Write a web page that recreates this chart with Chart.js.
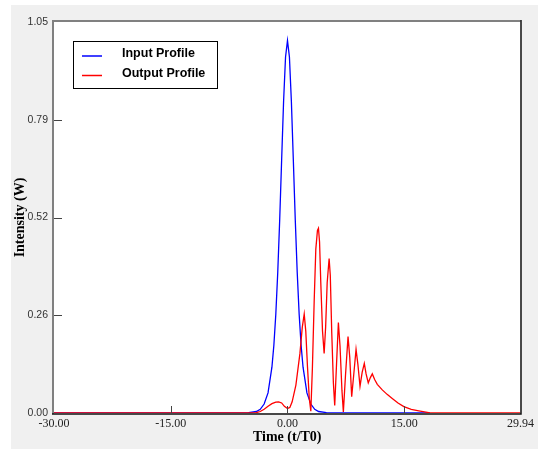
<!DOCTYPE html>
<html>
<head>
<meta charset="utf-8">
<script src="https://cdn.jsdelivr.net/npm/chart.js@4.4.1/dist/chart.umd.min.js"></script>
<style>
html, body { margin: 0; padding: 0; background: #fff; }
</style>
</head>
<body>
<canvas id="pulseChart" width="538" height="449"></canvas>
<script>
// axis ticks
const xTicks = [-30, -15, 0, 15, 29.94];
const xTickLabels = ['-30.00', '-15.00', '0.00', '15.00', '29.94'];
const yTicks = [0, 0.2625, 0.525, 0.7875, 1.05];
const yTickLabels = ['0.00', '0.26', '0.52', '0.79', '1.05'];

// input pulse
const inputTime = [-30, -6, -5, -4, -3.5, -3, -2.5, -2, -1.75, -1.5, -1.25, -1, -0.75, -0.5, -0.25, 0,
    0.25, 0.5, 0.75, 1, 1.25, 1.5, 1.75, 2, 2.5, 3, 3.5, 4, 5, 6, 18.3];
const inputPower = [0, 0, 0.001, 0.004, 0.010, 0.024, 0.054, 0.123, 0.182, 0.265, 0.378, 0.519, 0.680, 0.837, 0.956, 1.0,
    0.956, 0.837, 0.680, 0.519, 0.378, 0.265, 0.182, 0.123, 0.054, 0.024, 0.010, 0.004, 0.001, 0, 0];

// output pulse
const outputTime = [-30, -5, -4, -3.5, -3, -2.5, -2, -1.5, -1.14, -0.75, -0.4, 0, 0.3, 0.6, 1.08, 1.6, 1.9, 2.15,
    2.35, 2.57, 2.8, 3.0, 3.2, 3.43, 3.64, 3.85, 3.98, 4.12, 4.28, 4.5, 4.71, 4.9, 5.1, 5.35, 5.5, 5.69,
    5.9, 6.07, 6.3, 6.54, 6.75, 7.0, 7.18, 7.45, 7.78, 8.0, 8.25, 8.5, 8.81, 9.05, 9.32, 9.6, 9.87, 10.1,
    10.38, 10.65, 10.9, 11.2, 11.54, 12.18, 12.8, 13.46, 14.2, 14.95, 15.9, 16.87, 18.15, 18.3, 29.94];
const outputPower = [0, 0, 0.001, 0.004, 0.010, 0.018, 0.025, 0.029, 0.030, 0.027, 0.018, 0.012, 0.015, 0.030, 0.075, 0.160, 0.230, 0.266,
    0.220, 0.124, 0.040, 0.005, 0.120, 0.300, 0.440, 0.490, 0.496, 0.460, 0.350, 0.220, 0.160, 0.230, 0.350, 0.415, 0.370, 0.214,
    0.080, 0.020, 0.130, 0.243, 0.180, 0.060, 0.003, 0.100, 0.205, 0.150, 0.044, 0.100, 0.171, 0.130, 0.072, 0.110, 0.133, 0.105,
    0.081, 0.095, 0.105, 0.090, 0.077, 0.062, 0.050, 0.039, 0.027, 0.017, 0.010, 0.006, 0.001, 0, 0];

const toPoints = (ts, vs) => ts.map((t, i) => ({x: t, y: vs[i]}));

const framePlugin = {
    id: 'frame',
    beforeDraw(chart) {
        const {ctx, chartArea: a} = chart;
        ctx.save();
        ctx.fillStyle = '#ffffff';
        ctx.fillRect(0, 0, chart.width, chart.height);
        ctx.fillStyle = '#f0f0f0';
        ctx.fillRect(11, 5, chart.width - 11, chart.height - 5);
        ctx.fillStyle = '#ffffff';
        ctx.fillRect(a.left, a.top, a.right - a.left, a.bottom - a.top);
        ctx.restore();
    },
    afterDraw(chart) {
        const {ctx, chartArea: a} = chart;
        const x = chart.scales.x, y = chart.scales.y;
        ctx.save();
        // tick marks point inward, not on the frame ends
        ctx.strokeStyle = '#444';
        ctx.lineWidth = 1;
        ctx.beginPath();
        yTicks.slice(1, -1).forEach(v => {
            const py = Math.round(y.getPixelForValue(v)) + 0.5;
            ctx.moveTo(a.left, py);
            ctx.lineTo(a.left + 8, py);
        });
        xTicks.slice(1, -1).forEach(v => {
            const px = Math.round(x.getPixelForValue(v)) + 0.5;
            ctx.moveTo(px, a.bottom);
            ctx.lineTo(px, a.bottom - 7);
        });
        ctx.stroke();

        // sunken border
        ctx.lineWidth = 2;
        ctx.strokeStyle = '#808080';
        ctx.beginPath();
        ctx.moveTo(a.left - 1, a.bottom + 1);
        ctx.lineTo(a.left - 1, a.top - 1);
        ctx.lineTo(a.right, a.top - 1);
        ctx.stroke();
        ctx.strokeStyle = '#111';
        ctx.lineWidth = 1.5;
        ctx.beginPath();
        ctx.moveTo(a.right + 0.5, a.top - 2);
        ctx.lineTo(a.right + 0.5, a.bottom + 1);
        ctx.lineTo(a.left - 2, a.bottom + 1);
        ctx.stroke();

        // legend box
        const bx = 73.5, by = 41.5;
        ctx.fillStyle = '#ffffff';
        ctx.fillRect(bx, by, 144, 47);
        ctx.strokeStyle = '#000';
        ctx.lineWidth = 1;
        ctx.strokeRect(bx, by, 144, 47);
        ctx.font = 'bold 12.5px "Liberation Sans", Arial, sans-serif';
        ctx.textBaseline = 'middle';
        ctx.textAlign = 'left';
        chart.data.datasets.forEach((ds, i) => {
            const ly = 56 + i * 19.5;
            ctx.strokeStyle = ds.borderColor;
            ctx.lineWidth = 1.5;
            ctx.beginPath();
            ctx.moveTo(82, ly);
            ctx.lineTo(102, ly);
            ctx.stroke();
            ctx.fillStyle = '#000';
            ctx.fillText(ds.label, 122, ly - 2);
        });
        ctx.restore();
    }
};

new Chart(document.getElementById('pulseChart'), {
    type: 'line',
    data: {
        datasets: [{
            label: 'Input Profile',
            data: toPoints(inputTime, inputPower),
            borderColor: '#0000ff',
            borderWidth: 1.3,
            order: 2
        }, {
            label: 'Output Profile',
            data: toPoints(outputTime, outputPower),
            borderColor: '#ff0000',
            borderWidth: 1.3,
            order: 1
        }]
    },
    options: {
        responsive: false,
        animation: false,
        devicePixelRatio: 1,
        layout: {
            padding: {top: 22, right: 16, left: 0, bottom: 0}
        },
        elements: {
            point: {radius: 0},
            line: {tension: 0, fill: false}
        },
        plugins: {
            legend: {display: false},
            tooltip: {enabled: false}
        },
        scales: {
            x: {
                type: 'linear',
                min: -30,
                max: 29.94,
                afterBuildTicks: s => { s.ticks = xTicks.map(v => ({value: v})); },
                afterFit: s => { s.height = 36; },
                ticks: {
                    callback: (v, i) => xTickLabels[i],
                    autoSkip: false,
                    maxRotation: 0,
                    padding: 4,
                    color: '#222',
                    font: {family: '"Liberation Serif", serif', size: 12}
                },
                grid: {display: false, drawTicks: false},
                border: {display: false},
                title: {
                    display: true,
                    text: 'Time (t/T0)',
                    color: '#000',
                    font: {family: '"Liberation Serif", serif', size: 14, weight: 'bold'},
                    padding: {top: 0, bottom: 3}
                }
            },
            y: {
                min: 0,
                max: 1.05,
                afterBuildTicks: s => { s.ticks = yTicks.map(v => ({value: v})); },
                afterFit: s => { s.width = 54; },
                ticks: {
                    callback: (v, i) => yTickLabels[i],
                    autoSkip: false,
                    padding: 6,
                    color: '#333',
                    font: {family: '"Liberation Sans", sans-serif', size: 10.5}
                },
                grid: {display: false, drawTicks: false},
                border: {display: false},
                title: {
                    display: true,
                    text: 'Intensity (W)',
                    color: '#000',
                    font: {family: '"Liberation Serif", serif', size: 14, weight: 'bold'},
                    padding: {top: 12, bottom: 0}
                }
            }
        }
    },
    plugins: [framePlugin]
});
</script>
</body>
</html>
